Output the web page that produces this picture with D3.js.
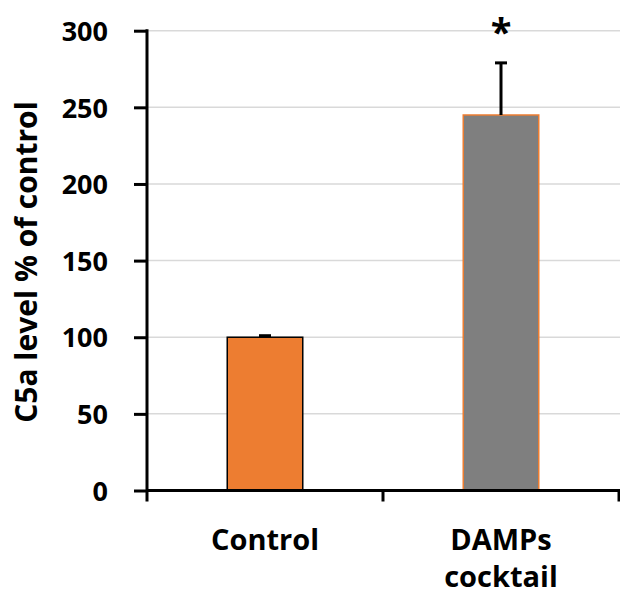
<!DOCTYPE html>
<html>
<head>
<meta charset="utf-8">
<script src="https://cdn.jsdelivr.net/npm/d3@7"></script>
<style>
  body { margin: 0; background: #fff; }
  svg text { font-family: "Open Sans", sans-serif; font-weight: bold; fill: #000; }
</style>
</head>
<body>
<div class="chart"></div>
<script>
// chart data
var categories = ["Control", "DAMPs cocktail"];
var values = [100, 245];
var errors = [1, 34];
var barFills = ["#ED7D31", "#7F7F7F"];
var barStrokes = ["#000000", "#ED7D31"];
var marks = ["", "*"];
var yTicks = [0, 50, 100, 150, 200, 250, 300];

var width = 620,
  height = 598,
  svg = d3.select(".chart").append("svg")
  .attr("width", width)
  .attr("height", height);

// note: "top" is taken by window.top, so use plot* names
var plotLeft = 147, plotRight = 619, plotTop = 30.7, plotBottom = 490.5;

var y = d3.scaleLinear()
  .domain([0, 300])
  .range([plotBottom, plotTop]);

var x = d3.scaleBand()
  .domain(categories)
  .range([plotLeft, plotRight])
  .paddingInner(0.68)
  .paddingOuter(0.34);

// category boundaries for the downward ticks
var xb = d3.scaleBand()
  .domain(categories)
  .range([plotLeft, plotRight]);

// gridlines
svg.append("g")
  .selectAll("line")
  .data(yTicks.slice(1))
  .enter().append("line")
  .attr("x1", plotLeft)
  .attr("x2", plotRight + 2)
  .attr("y1", function(d) { return y(d); })
  .attr("y2", function(d) { return y(d); })
  .attr("stroke", "#d9d9d9")
  .attr("stroke-width", 1.5);

// bars
svg.append("g")
  .selectAll("rect")
  .data(values)
  .enter().append("rect")
  .attr("x", function(d, i) { return x(categories[i]); })
  .attr("y", function(d) { return y(d); })
  .attr("width", x.bandwidth())
  .attr("height", function(d) { return y(0) - y(d); })
  .attr("fill", function(d, i) { return barFills[i]; })
  .attr("stroke", function(d, i) { return barStrokes[i]; })
  .attr("stroke-width", 1.5);

// error bars (upper only)
var eb = svg.append("g");
values.forEach(function(v, i) {
  var cx = x(categories[i]) + x.bandwidth() / 2;
  eb.append("line")
    .attr("x1", cx).attr("x2", cx)
    .attr("y1", y(v)).attr("y2", y(v + errors[i]))
    .attr("stroke", "#000").attr("stroke-width", 3);
  eb.append("line")
    .attr("x1", cx - 6).attr("x2", cx + 6)
    .attr("y1", y(v + errors[i])).attr("y2", y(v + errors[i]))
    .attr("stroke", "#000").attr("stroke-width", 3);
  if (marks[i]) {
    svg.append("text")
      .attr("x", cx)
      .attr("y", 46)
      .attr("text-anchor", "middle")
      .style("font-size", "38px")
      .text(marks[i]);
  }
});

// y axis
var yAxis = svg.append("g")
  .attr("transform", "translate(" + plotLeft + ",0)")
  .call(d3.axisLeft(y).tickValues(yTicks).tickSize(13).tickPadding(26));
yAxis.select(".domain").remove();
yAxis.selectAll(".tick line").attr("stroke", "#000").attr("stroke-width", 3);
yAxis.selectAll(".tick text").style("font-size", "27px").attr("dy", "0.36em");
svg.append("line")
  .attr("x1", plotLeft).attr("x2", plotLeft)
  .attr("y1", plotTop - 1.5).attr("y2", plotBottom + 11)
  .attr("stroke", "#000").attr("stroke-width", 3);

// x axis
svg.append("line")
  .attr("x1", plotLeft).attr("x2", width)
  .attr("y1", plotBottom).attr("y2", plotBottom)
  .attr("stroke", "#000").attr("stroke-width", 3);
svg.append("g")
  .selectAll("line")
  .data(categories)
  .enter().append("line")
  .attr("x1", function(d) { return xb(d) + xb.bandwidth(); })
  .attr("x2", function(d) { return xb(d) + xb.bandwidth(); })
  .attr("y1", plotBottom)
  .attr("y2", plotBottom + 11)
  .attr("stroke", "#000").attr("stroke-width", 3);

// category labels
categories.forEach(function(c) {
  var t = svg.append("text")
    .attr("x", x(c) + x.bandwidth() / 2)
    .attr("y", 550)
    .attr("text-anchor", "middle")
    .style("font-size", "29px");
  c.split(" ").forEach(function(w, k) {
    t.append("tspan")
      .attr("x", x(c) + x.bandwidth() / 2)
      .attr("dy", k === 0 ? 0 : 37)
      .text(w);
  });
});

// y label
svg.append("text")
  .attr("transform", "translate(37,262) rotate(-90)")
  .attr("text-anchor", "middle")
  .style("font-size", "30px")
  .text("C5a level % of control");
</script>
</body>
</html>
